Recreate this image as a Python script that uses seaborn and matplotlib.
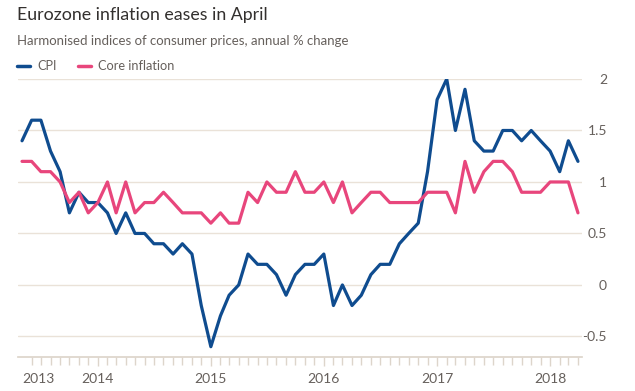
import numpy as np
import pandas as pd
import matplotlib
matplotlib.use("Agg")
import matplotlib.pyplot as plt
import matplotlib.dates as mdates
import seaborn as sns

# Monthly data, May 2013 - April 2018 (annual % change)
start_month = "2013-05-01"
cpi = [1.4, 1.6, 1.6, 1.3, 1.1, 0.7, 0.9, 0.8,
       0.8, 0.7, 0.5, 0.7, 0.5, 0.5, 0.4, 0.4, 0.3, 0.4, 0.3, -0.2,
       -0.6, -0.3, -0.1, 0.0, 0.3, 0.2, 0.2, 0.1, -0.1, 0.1, 0.2, 0.2,
       0.3, -0.2, 0.0, -0.2, -0.1, 0.1, 0.2, 0.2, 0.4, 0.5, 0.6, 1.1,
       1.8, 2.0, 1.5, 1.9, 1.4, 1.3, 1.3, 1.5, 1.5, 1.4, 1.5, 1.4,
       1.3, 1.1, 1.4, 1.2]
core = [1.2, 1.2, 1.1, 1.1, 1.0, 0.8, 0.9, 0.7,
        0.8, 1.0, 0.7, 1.0, 0.7, 0.8, 0.8, 0.9, 0.8, 0.7, 0.7, 0.7,
        0.6, 0.7, 0.6, 0.6, 0.9, 0.8, 1.0, 0.9, 0.9, 1.1, 0.9, 0.9,
        1.0, 0.8, 1.0, 0.7, 0.8, 0.9, 0.9, 0.8, 0.8, 0.8, 0.8, 0.9,
        0.9, 0.9, 0.7, 1.2, 0.9, 1.1, 1.2, 1.2, 1.1, 0.9, 0.9, 0.9,
        1.0, 1.0, 1.0, 0.7]
series_names = ["CPI", "Core inflation"]
year_labels = ["2013", "2014", "2015", "2016", "2017", "2018"]
y_ticks = [-0.5, 0, 0.5, 1, 1.5, 2]

dates = pd.date_range(start_month, periods=len(cpi), freq="MS")
df = pd.DataFrame({"date": np.concatenate([dates, dates]),
                   "value": cpi + core,
                   "series": [series_names[0]] * len(cpi) + [series_names[1]] * len(core)})

sns.set_theme(style="white")
plt.rcParams["font.family"] = ["Lato", "DejaVu Sans"]

text_gray = "#66605C"
grid_col = "#EAE2D8"
axis_col = "#DDD5CB"
colors = {"CPI": "#0F4C8F", "Core inflation": "#E8467C"}

fig = plt.figure(figsize=(6.35, 3.91), dpi=100)
ax = fig.add_axes([18 / 635, 34 / 391, 564 / 635, 278 / 391])

sns.lineplot(data=df, x="date", y="value", hue="series", palette=colors,
             linewidth=2.3, ax=ax, legend=False)

ax.set_ylim(-0.7, 2.0)
ax.set_xlim(dates[0] - pd.Timedelta(days=13), dates[-1] + pd.Timedelta(days=13))
ax.set_xlabel("")
ax.set_ylabel("")

# y axis on the right, labels right-aligned
ax.yaxis.tick_right()
ax.set_yticks(y_ticks)
ax.set_yticklabels([f"{v:g}" for v in y_ticks])
ax.tick_params(axis="y", length=0, pad=18, labelsize=10, labelcolor=text_gray)
for lab in ax.get_yticklabels():
    lab.set_horizontalalignment("right")
for v in y_ticks:
    ax.axhline(v, color=grid_col, linewidth=1, zorder=0)

# x axis: monthly ticks, year labels
ax.xaxis.set_minor_locator(mdates.MonthLocator())
year_pos = [dates[0]] + [pd.Timestamp(f"{y}-01-01") for y in year_labels[1:]]
ax.set_xticks(year_pos)
ax.set_xticklabels(year_labels)
ax.tick_params(axis="x", which="both", bottom=True, length=6.5, width=1, color=axis_col,
               labelsize=10, labelcolor=text_gray, pad=5)
ax.tick_params(axis="x", which="minor", length=6)
ax.get_xticklabels()[0].set_horizontalalignment("left")
ax.get_xticklines()[0].set_visible(False)

for s in ["top", "right", "left"]:
    ax.spines[s].set_visible(False)
ax.spines["bottom"].set_color(axis_col)

# title, subtitle, legend
fig.text(17 / 635, 1 - 20 / 391, "Eurozone inflation eases in April", fontsize=12.8,
         color="#33302E", va="baseline")
fig.text(17 / 635, 1 - 45 / 391, "Harmonised indices of consumer prices, annual % change",
         fontsize=9.5, color=text_gray, va="baseline")
lx = [17, 78]
for name, x0 in zip(series_names, lx):
    fig.add_artist(plt.Line2D([x0 / 635, (x0 + 13) / 635], [1 - 66 / 391] * 2,
                              color=colors[name], linewidth=2.5))
    fig.text((x0 + 20) / 635, 1 - 66 / 391, name, fontsize=9.2, color=text_gray, va="center")

fig.savefig("out.png", dpi=100)
